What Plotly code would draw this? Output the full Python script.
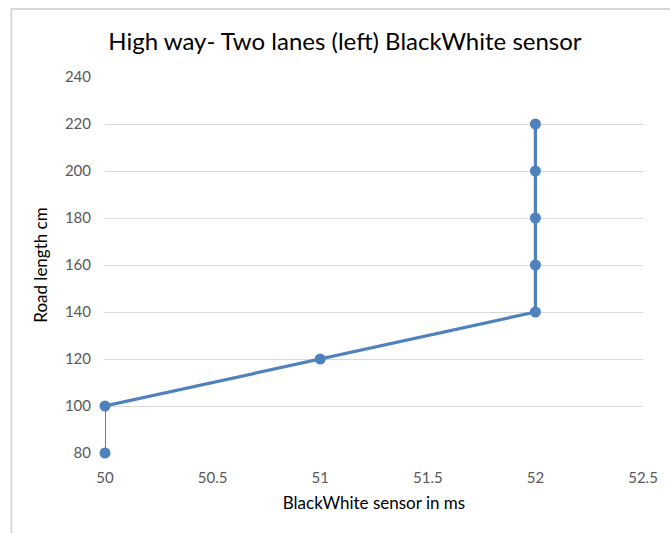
import plotly.graph_objects as go

# Sensor readings (ms) against road length (cm)
sensor_ms = [50, 50, 51, 52, 52, 52, 52, 52]
road_cm = [80, 100, 120, 140, 160, 180, 200, 220]

x_ticks = [50, 50.5, 51, 51.5, 52, 52.5]
y_ticks = [80, 100, 120, 140, 160, 180, 200, 220, 240]

blue = "#4F81BD"
grid = "#D9D9D9"
tick_color = "#595959"
font_family = "Lato, 'Open Sans', sans-serif"

fig = go.Figure()

# first segment is drawn with a thinner stroke
fig.add_trace(go.Scatter(
    x=sensor_ms[:2], y=road_cm[:2], mode="lines",
    line=dict(color=blue, width=2), hoverinfo="skip", showlegend=False,
    cliponaxis=False,
))
fig.add_trace(go.Scatter(
    x=sensor_ms[1:], y=road_cm[1:], mode="lines",
    line=dict(color=blue, width=3.2), showlegend=False,
    cliponaxis=False,
))
fig.add_trace(go.Scatter(
    x=sensor_ms, y=road_cm, mode="markers",
    marker=dict(color=blue, size=11), showlegend=False,
    cliponaxis=False,
))

fig.update_layout(
    width=670, height=533,
    margin=dict(l=105, r=25, t=77, b=80),
    paper_bgcolor="white", plot_bgcolor="white",
    font=dict(family=font_family, color=tick_color),
    title=dict(
        text="High way- Two lanes (left) BlackWhite sensor",
        x=0.446, xref="paper", xanchor="center",
        y=1 - 42 / 533, yanchor="middle",
        font=dict(size=24, color="#000000", family=font_family),
    ),
    xaxis=dict(
        range=[50, 52.5], tickvals=x_ticks, ticktext=[str(v) for v in x_ticks],
        showgrid=False, zeroline=False, showline=False,
        tickfont=dict(size=15, color=tick_color),
        ticks="", ticklen=0, ticklabelstandoff=14,
        title=dict(text="BlackWhite sensor in ms",
                   font=dict(size=17, color="#000000"), standoff=12),
    ),
    yaxis=dict(
        range=[80, 240], tickvals=y_ticks,
        showgrid=True, gridcolor=grid, gridwidth=1,
        zeroline=False, showline=False,
        tickfont=dict(size=15, color=tick_color),
        ticks="", ticklen=0, ticklabelstandoff=13,
        title=dict(text="Road length cm",
                   font=dict(size=17, color="#000000"), standoff=12),
    ),
    shapes=[
        dict(type="rect", xref="paper", yref="paper",
             x0=(11 - 105) / 540, x1=1.2,
             y0=-0.4, y1=(453 - 9) / 376,
             line=dict(color=grid, width=2), layer="below"),
    ],
)

fig.write_html("out.html")
